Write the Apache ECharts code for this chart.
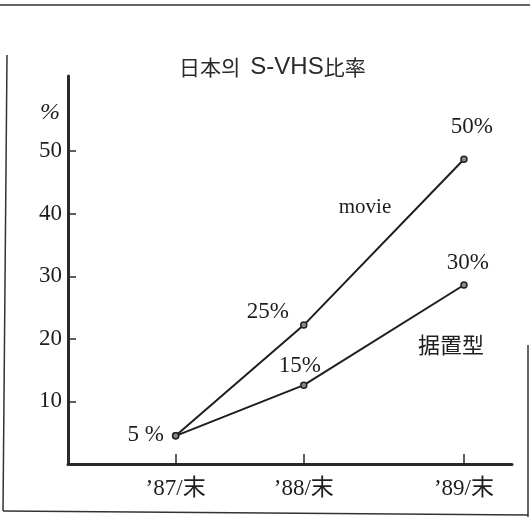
<!DOCTYPE html>
<html><head><meta charset="utf-8">
<script src="https://cdn.jsdelivr.net/npm/echarts@6/dist/echarts.min.js"></script>
<style>html,body{margin:0;padding:0;background:#fff}#c{width:530px;height:517px}</style>
</head><body><div id="c"></div>
<script>
// ---- data ----
const periods = ['\u201987/\u672B', '\u201988/\u672B', '\u201989/\u672B'];
const periodPos = [0, 1, 2.25];
const movieValues = [4.5, 22.2, 48.7];
const fixedValues = [4.5, 12.6, 28.6];
const movieLabels = ['5 %', '25%', '50%'];
const fixedLabels = ['', '15%', '30%'];
const yTicks = [10, 20, 30, 40, 50];
const seriesNames = ['movie', '据置型'];
const titleCjk1 = '日本의';
const titleLatin = 'S-VHS';
const titleCjk2 = '比率';
const yUnit = '%';

// ---- layout / styles ----
const movieLabelOffsets = [[-30, -1], [-36, -13], [8, -32]];
const fixedLabelOffsets = [[0, 0], [-4, -19], [4, -22]];
const serif = "'Liberation Serif', 'DejaVu Serif', 'Noto Sans CJK JP', serif";
const ink = '#1e1e1e';

function buildData(vals, labels, offsets) {
  return vals.map((v, i) => ({
    value: [periodPos[i], v],
    label: {
      show: labels[i] !== '',
      formatter: labels[i],
      position: 'inside',
      offset: offsets[i]
    }
  }));
}

const chart = echarts.init(document.getElementById('c'), null, {renderer: 'canvas'});
const lineStyleCommon = {color: ink, width: 2};
const itemStyleCommon = {color: '#8a8a8a', borderColor: '#222', borderWidth: 1.5};
const labelCommon = {fontFamily: serif, fontSize: 23, color: ink};

chart.setOption({
  backgroundColor: '#fff',
  animation: false,
  title: {
    text: '{c|' + titleCjk1 + '}  {l|' + titleLatin + '}{c|' + titleCjk2 + '}',
    left: 174, top: 50,
    textStyle: {
      fontWeight: 'normal',
      rich: {
        c: {fontSize: 21, fontWeight: 'normal', fontFamily: "'Noto Sans CJK KR'", color: '#2a2a2a'},
        l: {fontSize: 24, fontWeight: 'normal', fontFamily: "'Liberation Sans', Arial, sans-serif", color: '#2a2a2a'}
      }
    }
  },
  grid: {left: 68, right: 18, top: 76, bottom: 53, outerBoundsMode: 'none'},
  xAxis: {
    type: 'value', min: -0.84, max: 2.625,
    splitLine: {show: false},
    axisLine: {show: true, onZero: false, lineStyle: {color: '#2a2a2a', width: 3}},
    axisTick: {show: true, inside: true, length: 10, customValues: periodPos, lineStyle: {color: '#2a2a2a', width: 1.5}},
    axisLabel: {
      customValues: periodPos,
      formatter: v => periods[periodPos.indexOf(v)] || '',
      fontFamily: serif, fontSize: 23, color: ink, margin: 13
    }
  },
  yAxis: {
    type: 'value', min: 0, max: 62,
    splitLine: {show: false},
    axisLine: {show: true, onZero: false, lineStyle: {color: '#2a2a2a', width: 3}},
    axisTick: {show: true, inside: true, length: 8, customValues: yTicks, lineStyle: {color: '#2a2a2a', width: 1.5}},
    axisLabel: {customValues: yTicks, fontFamily: serif, fontSize: 23, color: ink, margin: 6}
  },
  series: [
    {
      name: seriesNames[0], type: 'line',
      data: buildData(movieValues, movieLabels, movieLabelOffsets),
      symbol: 'circle', symbolSize: 6,
      lineStyle: lineStyleCommon, itemStyle: itemStyleCommon,
      label: labelCommon, z: 3
    },
    {
      name: seriesNames[1], type: 'line',
      data: buildData(fixedValues, fixedLabels, fixedLabelOffsets),
      symbol: 'circle', symbolSize: 6,
      lineStyle: lineStyleCommon, itemStyle: itemStyleCommon,
      label: labelCommon, z: 2
    }
  ],
  graphic: [
    // scanned page frame
    {type: 'line', shape: {x1: 0, y1: 5, x2: 530, y2: 5}, style: {stroke: '#333', lineWidth: 1.5}},
    {type: 'line', shape: {x1: 7, y1: 55, x2: 3, y2: 511}, style: {stroke: '#333', lineWidth: 1.5}},
    {type: 'line', shape: {x1: 3, y1: 511, x2: 528, y2: 515}, style: {stroke: '#333', lineWidth: 1.5}},
    {type: 'line', shape: {x1: 528, y1: 345, x2: 528, y2: 517}, style: {stroke: '#333', lineWidth: 1.5}},
    // unit & series names
    {type: 'text', x: 50, y: 113, style: {text: yUnit, fontFamily: serif, fontStyle: 'italic', fontSize: 24, fill: ink, align: 'center', verticalAlign: 'middle'}},
    {type: 'text', x: 365, y: 207, style: {text: seriesNames[0], fontFamily: serif, fontSize: 21, fill: ink, align: 'center', verticalAlign: 'middle'}},
    {type: 'text', x: 451, y: 345, style: {text: seriesNames[1], fontFamily: "'Noto Sans CJK JP'", fontSize: 22, fill: ink, align: 'center', verticalAlign: 'middle'}}
  ]
});
</script>
</body></html>
